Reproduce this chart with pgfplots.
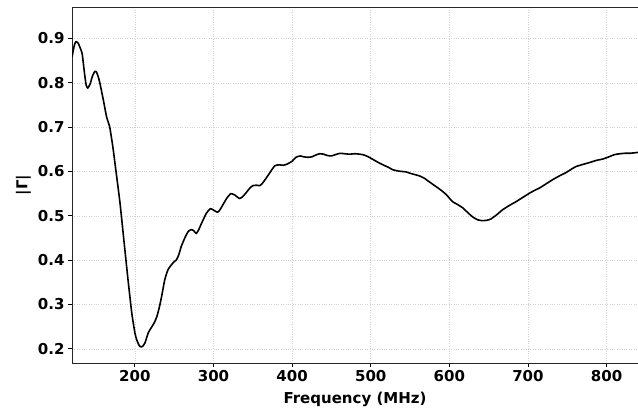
\documentclass[border=0pt]{standalone}
\usepackage{pgfplots}
\pgfplotsset{compat=1.18}
\usepackage{fontspec}
\setmainfont{DejaVu Sans}

\pgfplotstableread{
f g
120 0.858
123 0.885
125 0.893
128 0.889
131 0.876
133 0.865
136 0.820
138 0.795
140 0.788
143 0.797
146 0.815
149 0.826
151 0.825
154 0.810
156 0.795
160 0.760
164 0.723
168 0.700
172 0.655
176 0.600
181 0.530
186 0.445
191 0.360
196 0.281
200 0.236
202 0.222
204 0.213
206 0.206
208 0.204
210 0.206
213 0.214
217 0.236
222 0.251
225 0.260
228 0.273
231 0.293
234 0.318
238 0.356
242 0.378
245 0.386
249 0.395
253 0.401
256 0.413
259 0.431
264 0.452
268 0.465
272 0.469
275 0.466
278 0.460
281 0.468
285 0.484
291 0.506
296 0.516
300 0.513
305 0.508
308 0.513
312 0.525
317 0.540
322 0.550
327 0.547
333 0.539
337 0.543
341 0.551
346 0.562
350 0.568
355 0.569
359 0.568
363 0.575
367 0.585
372 0.598
378 0.613
384 0.615
389 0.614
394 0.617
400 0.623
405 0.632
410 0.635
415 0.633
420 0.632
425 0.633
430 0.637
435 0.640
440 0.639
445 0.636
450 0.635
455 0.638
461 0.641
467 0.640
473 0.639
480 0.640
486 0.639
490 0.638
496 0.634
503 0.627
511 0.619
518 0.613
523 0.609
528 0.604
535 0.601
540 0.600
545 0.599
550 0.596
556 0.593
562 0.590
568 0.585
575 0.576
583 0.566
590 0.557
596 0.548
604 0.532
610 0.526
617 0.518
623 0.508
630 0.497
636 0.491
642 0.489
648 0.490
653 0.493
660 0.502
668 0.514
676 0.523
685 0.532
693 0.541
702 0.551
708 0.557
715 0.563
723 0.572
731 0.581
740 0.590
749 0.598
755 0.605
761 0.611
770 0.616
778 0.620
787 0.625
795 0.628
803 0.633
810 0.638
817 0.640
823 0.641
830 0.641
835 0.642
840 0.643
}\reflcoef

\begin{document}
\begin{tikzpicture}
\begin{axis}[
  scale only axis,
  width=566pt, height=356pt,
  xmin=120, xmax=840,
  ymin=0.168, ymax=0.971,
  xtick={200,300,400,500,600,700,800},
  ytick={0.2,0.3,0.4,0.5,0.6,0.7,0.8,0.9},
  yticklabel style={/pgf/number format/fixed, /pgf/number format/precision=1, /pgf/number format/fixed zerofill},
  /pgf/number format/assume math mode=true,
  ticklabel style={font=\fontsize{15}{18}\selectfont\bfseries},
  xtick pos=left, ytick pos=left,
  tick align=outside,
  major tick length=4pt,
  tick style={black, line width=0.8pt},
  axis line style={black!85, line width=0.9pt},
  grid=major,
  major grid style={gray!35, dotted, line width=0.6pt},
  xlabel={Frequency (MHz)},
  ylabel={|Γ|},
  label style={font=\fontsize{15}{18}\selectfont\bfseries},
  xlabel style={yshift=-3pt},
  ylabel style={yshift=0pt},
]
\addplot[black, line width=1.6pt, line join=round, smooth, tension=0.3] table[x=f, y=g] {\reflcoef};
\end{axis}
\pgfresetboundingbox
\path[use as bounding box] ([xshift=-72pt,yshift=-47pt]current axis.south west) rectangle ([yshift=7pt]current axis.north east);
\end{tikzpicture}
\end{document}
